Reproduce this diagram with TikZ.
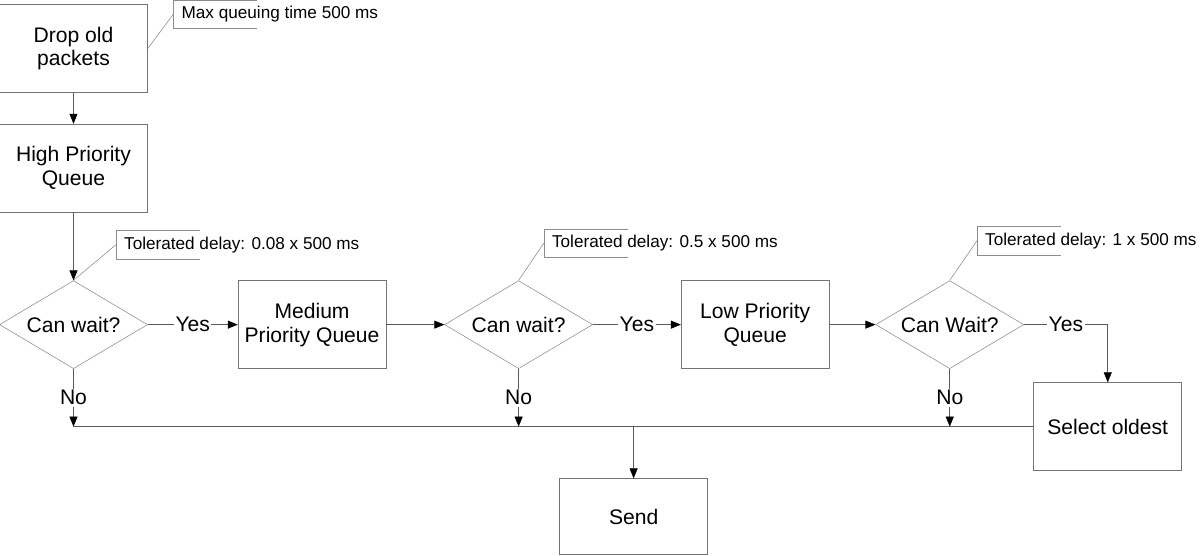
\documentclass[tikz,border=0pt]{standalone}
\usepackage{fontspec}
\setmainfont{Liberation Sans}
\usetikzlibrary{arrows.meta}
\usetikzlibrary{positioning}
\usetikzlibrary{shapes.geometric}

\begin{document}
\begin{tikzpicture}[
		block/.style={draw=black!55, minimum height=22mm, minimum width=37mm, align=center, font=\fontsize{15}{17}\selectfont},
		decision/.style={diamond, draw=black!45, aspect=1.68, inner sep=0pt, minimum height=22mm, minimum width=37mm, font=\fontsize{15}{17}\selectfont},
		note/.style={anchor=west, inner xsep=2mm, minimum height=7mm, font=\fontsize{12.2}{14}\selectfont},
		line/.style={draw=black!65},
		arrow/.style={line, -{Triangle[length=2.5mm, width=2mm, fill=black, color=black]}},
		label/.style={fill=white, inner sep=1pt, font=\fontsize{15}{17}\selectfont},
	]
	\useasboundingbox (-1.8375,1.2125) rectangle ++(30,-13.875);
	\node[block] (drop) at (0,0) {Drop old\\packets};
	\node[block, below=7.75mm of drop] (high) {High Priority\\Queue};
	\node[decision, below=17mm of high] (wait1) {Can wait?};
	\node[block, right=22.5mm of wait1] (med) {Medium\\Priority Queue};
	\node[decision, right=14.5mm of med] (wait2) {Can wait?};
	\node[block, right=22mm of wait2] (low) {Low Priority\\Queue};
	\node[decision, right=11.5mm of low] (wait3) {Can Wait?};
	\node[block] (oldest) at ([shift={(3.95,-2.55)}]wait3) {Select oldest};
	\node[block, minimum height=19mm] (send) at ([shift={(2.875,-4.8)}]wait2) {Send};
	
	% notes
	\node[note] (maxq) at ([shift={(0.64,-0.25)}]drop.north east) {Max queuing time 500 ms};
	\node[note] (tol1) at ([shift={(1.06,0.89)}]wait1.north) {Tolerated delay: 0.08 x 500 ms};
	\node[note] (tol2) at ([shift={(0.63,0.93)}]wait2.north) {Tolerated delay: 0.5 x 500 ms};
	\node[note] (tol3) at ([shift={(0.68,0.99)}]wait3.north) {Tolerated delay: 1 x 500 ms};
	\foreach \n in {maxq,tol1,tol2,tol3}
		\draw[draw=black!45] ([xshift=21mm]\n.north west) -- (\n.north west) -- (\n.south west) -- ([xshift=21mm]\n.south west);
	\draw[draw=black!45] (maxq.west) -- (drop.east);
	\draw[draw=black!45] (tol1.west) -- (wait1.north);
	\draw[draw=black!45] (tol2.west) -- (wait2.north);
	\draw[draw=black!45] (tol3.west) -- (wait3.north);
	
	\draw[arrow] (drop) -- (high);
	\draw[arrow] (high) -- (wait1);
	\draw[arrow] (wait1) -- (med) node[midway, label] {Yes};
	\draw[arrow] (med) -- (wait2);
	\draw[arrow] (wait2) -- (low) node[midway, label] {Yes};
	\draw[arrow] (low) -- (wait3);
	\draw[arrow] (wait3.east) -| (oldest.north) node[pos=0.25, label] {Yes};
	\foreach \w in {wait1,wait2,wait3}
		\draw[arrow] (\w.south) -- (\w.south |- oldest.west) node[midway, label] {No};
	\draw[line] (wait1.south |- oldest.west) -- (oldest.west);
	\draw[arrow] (send.north |- oldest.west) -- (send.north);
\end{tikzpicture}
\end{document}
